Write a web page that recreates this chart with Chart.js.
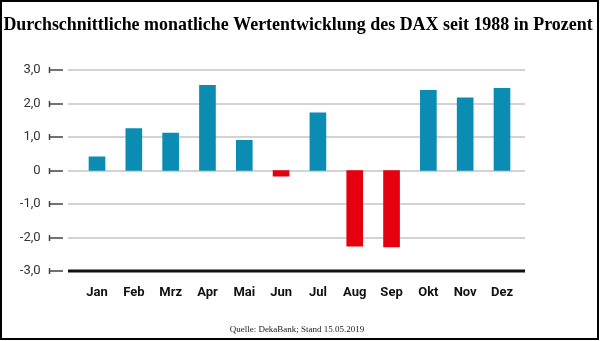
<!DOCTYPE html>
<html>
<head>
<meta charset="utf-8">
<script src="https://cdn.jsdelivr.net/npm/chart.js@4/dist/chart.umd.min.js"></script>
<style>
html,body{margin:0;padding:0;background:#fff;}
#wrap{position:relative;width:600px;height:341px;}
</style>
</head>
<body>
<div id="wrap"><canvas id="c" width="600" height="341"></canvas></div>
<script>
const titleText = "Durchschnittliche monatliche Wertentwicklung des DAX seit 1988 in Prozent";
const sourceText = "Quelle: DekaBank; Stand 15.05.2019";
const months = ["Jan","Feb","Mrz","Apr","Mai","Jun","Jul","Aug","Sep","Okt","Nov","Dez"];
const values = [0.41, 1.25, 1.12, 2.54, 0.90, -0.17, 1.72, -2.26, -2.28, 2.39, 2.17, 2.45];
const yTicks = [3, 2, 1, 0, -1, -2, -3];
const yTickLabels = ["3,0","2,0","1,0","0","-1,0","-2,0","-3,0"];

const BLUE = "#0a8cb3";
const RED = "#e6000f";

const framePlugin = {
  id: "frame",
  beforeDatasetsDraw(chart) {
    const ctx = chart.ctx;
    const y = chart.scales.y;
    ctx.save();
    yTicks.forEach(v => {
      const py = Math.round(y.getPixelForValue(v));
      ctx.beginPath();
      if (v === -3) { ctx.strokeStyle = "#111"; ctx.lineWidth = 3; }
      else { ctx.strokeStyle = "#c4c4c4"; ctx.lineWidth = 1.5; }
      ctx.moveTo(68, py); ctx.lineTo(525, py); ctx.stroke();
      ctx.beginPath();
      ctx.strokeStyle = "#444"; ctx.lineWidth = 1.5;
      ctx.moveTo(49.5, py - 3); ctx.lineTo(49.5, py + 3);
      ctx.moveTo(49.5, py); ctx.lineTo(63, py);
      ctx.stroke();
    });
    ctx.restore();
  },
  afterDraw(chart) {
    const ctx = chart.ctx;
    ctx.save();
    // title
    ctx.fillStyle = "#000";
    ctx.textAlign = "center";
    ctx.textBaseline = "middle";
    ctx.font = "bold 17px 'Liberation Serif'";
    const w = ctx.measureText(titleText).width;
    const size = 17 * 590 / w;
    ctx.font = "bold " + size.toFixed(2) + "px 'Liberation Serif'";
    ctx.fillText(titleText, 298, 25);
    // source
    ctx.fillStyle = "#222";
    ctx.font = "9px 'Liberation Serif'";
    ctx.fillText(sourceText, 297, 330);
    // frame
    ctx.strokeStyle = "#000"; ctx.lineWidth = 2;
    ctx.strokeRect(1, 1, 597, 338);
    ctx.restore();
  }
};

new Chart(document.getElementById("c"), {
  type: "bar",
  data: {
    labels: months,
    datasets: [{
      data: values,
      backgroundColor: ctx => (ctx.raw < 0 ? RED : BLUE),
      barThickness: 16
    }]
  },
  options: {
    responsive: false,
    animation: false,
    events: [],
    layout: { padding: { top: 70, right: 79.6, bottom: 40, left: 0 } },
    plugins: {
      legend: { display: false },
      tooltip: { enabled: false },
      title: { display: false },
      subtitle: { display: false }
    },
    scales: {
      x: {
        afterFit: s => { s.height = 30; },
        grid: { display: false, drawTicks: false },
        border: { display: false },
        ticks: { color: "#111", font: { family: "Roboto", size: 13, weight: "bold" }, padding: 14 }
      },
      y: {
        min: -3, max: 3,
        afterBuildTicks: s => { s.ticks = yTicks.map(v => ({ value: v })); },
        afterFit: s => { s.width = 78.6; },
        grid: { display: false, drawTicks: false },
        border: { display: false },
        ticks: {
          color: "#333", font: { family: "Roboto", size: 13 }, padding: 38,
          callback: (v) => yTickLabels[yTicks.indexOf(v)]
        }
      }
    }
  },
  plugins: [framePlugin]
});
</script>
</body>
</html>
